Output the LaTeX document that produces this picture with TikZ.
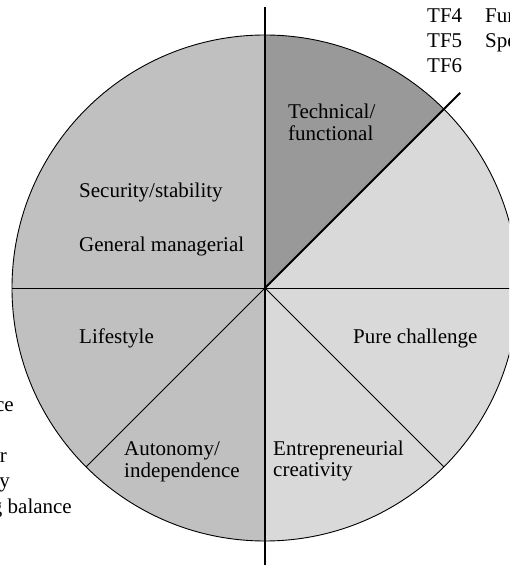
\documentclass[tikz,border=0pt]{standalone}
\usepackage{fontspec}
\setmainfont{Liberation Serif}
\usetikzlibrary{calc}
\begin{document}
\begin{tikzpicture}[x=1pt,y=1pt,
  lbl/.style={inner sep=0pt,anchor=base west,font=\fontsize{21}{22}\selectfont},
  lblr/.style={inner sep=0pt,anchor=base east,font=\fontsize{21}{22}\selectfont},
  thin line/.style={draw=black,line width=0.9pt},
  thick line/.style={draw=black,line width=2pt}]
\definecolor{midgray}{RGB}{192,192,192}
\definecolor{darkgray}{RGB}{153,153,153}
\definecolor{lightgray}{RGB}{217,217,217}
\useasboundingbox (0,0) rectangle (509,565);
\clip (0,0) rectangle (509,565);
\coordinate (c) at (265,277);
% sectors
\fill[midgray] (c) -- ++(90:253pt) arc[start angle=90,end angle=270,radius=253pt] -- cycle;
\fill[darkgray] (c) -- ++(45:253pt) arc[start angle=45,end angle=90,radius=253pt] -- cycle;
\fill[lightgray] (c) -- ++(-90:253pt) arc[start angle=-90,end angle=45,radius=253pt] -- cycle;
% named ends
\coordinate (topend) at (265,558);
\coordinate (botend) at (265,-10);
\coordinate (leftend) at ($(c)+(180:253pt)$);
\coordinate (rightend) at ($(c)+(0:253pt)$);
\coordinate (neend) at ($(c)+(45:276pt)$);
\coordinate (seend) at ($(c)+(-45:253pt)$);
\coordinate (swend) at ($(c)+(-135:253pt)$);
% outline and dividers
\draw[thin line] (c) circle[radius=253pt];
\draw[thin line] (leftend) -- (rightend);
\draw[thin line] (c) -- (seend);
\draw[thin line] (c) -- (swend);
\draw[thick line] (c) -- (neend);
\draw[thick line] (topend) -- (botend);
% labels in the circle
\node[lbl] (tech1) at (288,446) {Technical/};
\node[lbl] (tech2) at (288,424) {functional};
\node[lbl] (sec) at (79,367) {Security/stability};
\node[lbl] (gen) at (79,313) {General managerial};
\node[lbl] (life) at (79,221) {Lifestyle};
\node[lbl] (pure) at (353,221) {Pure challenge};
\node[lbl] (auto1) at (124,109) {Autonomy/};
\node[lbl] (auto2) at (124,87) {independence};
\node[lbl] (entr1) at (273,109) {Entrepreneurial};
\node[lbl] (entr2) at (273,88) {creativity};
% cut-off texts at the top right
\node[lbl] (tf4) at (427,542) {TF4};
\node[lbl] (tf5) at (427,517) {TF5};
\node[lbl] (tf6) at (427,492) {TF6};
\node[lbl] (tf4t) at (485,542) {Fun};
\node[lbl] (tf5t) at (485,517) {Spe};
% cut-off texts at the left
\node[lblr] (l1) at (14,153) {ce};
\node[lblr] (l2) at (7,102) {r};
\node[lblr] (l3) at (10,77) {y};
\node[lblr] (l4) at (72,51) {g balance};
\end{tikzpicture}
\end{document}
